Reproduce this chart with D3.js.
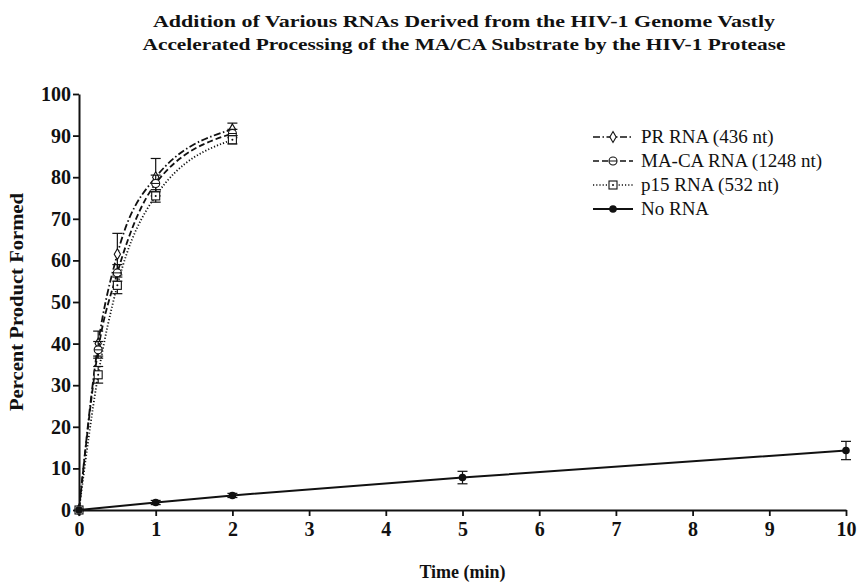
<!DOCTYPE html>
<html>
<head>
<meta charset="utf-8">
<script src="https://cdn.jsdelivr.net/npm/d3@7"></script>
<style>
  body { margin: 0; background: #fff; }
  text { font-family: "Liberation Serif", "DejaVu Serif", serif; fill: #111; }
  .tick text { font-size: 20px; font-weight: bold; }
  .title { font-size: 16px; font-weight: bold; }
  .axlabel { font-size: 18px; font-weight: bold; }
  .legend { font-size: 19px; }
</style>
</head>
<body>
<div class="canvas"></div>
<script>

// data
var rnaTimes = [0, 0.25, 0.5, 1, 2];
var prRna = [0, 40, 61.5, 80, 91.5];
var prErr = [0, 3, 5, 4.5, 1.5];
var macaRna = [0, 38.5, 57, 78.5, 90.5];
var macaErr = [0, 2, 2, 2, 1];
var p15Rna = [0, 32.5, 54, 75.5, 89];
var p15Err = [0, 2, 2, 1.5, 1];
var noRnaTimes = [0, 1, 2, 5, 10];
var noRna = [0, 1.8, 3.5, 7.8, 14.3];
var noRnaErr = [0, 0.5, 0.5, 1.5, 2.2];

var xTicks = [0, 1, 2, 3, 4, 5, 6, 7, 8, 9, 10];
var yTicks = [0, 10, 20, 30, 40, 50, 60, 70, 80, 90, 100];
var legendNames = ["PR RNA (436 nt)", "MA-CA RNA (1248 nt)", "p15 RNA (532 nt)", "No RNA"];

var svg = d3.select(".canvas")
			.append("svg")
			.attr("width", 859)
			.attr("height", 583);

var x = d3.scaleLinear().domain([0, 10]).range([79, 846]);
var y = d3.scaleLinear().domain([0, 100]).range([510, 94]);

// TITLE

svg.append("text")
   .attr("class", "title")
   .attr("x", 464)
   .attr("y", 27)
   .attr("text-anchor", "middle")
   .attr("textLength", 622)
   .attr("lengthAdjust", "spacingAndGlyphs")
   .text("Addition of Various RNAs Derived from the HIV-1 Genome Vastly");

svg.append("text")
   .attr("class", "title")
   .attr("x", 464)
   .attr("y", 50)
   .attr("text-anchor", "middle")
   .attr("textLength", 643)
   .attr("lengthAdjust", "spacingAndGlyphs")
   .text("Accelerated Processing of the MA/CA Substrate by the HIV-1 Protease");

// AXES

svg.append("g")
   .attr("transform", "translate(0," + y(0) + ")")
   .call(d3.axisBottom(x).tickValues(xTicks).tickSize(6).tickSizeOuter(0).tickPadding(6));

svg.append("g")
   .attr("transform", "translate(" + x(0) + ",0)")
   .call(d3.axisLeft(y).tickValues(yTicks).tickSize(6).tickSizeOuter(0).tickPadding(2));

svg.selectAll(".domain").attr("stroke", "#111").attr("stroke-width", 2);
svg.selectAll(".tick line").attr("stroke", "#111").attr("stroke-width", 1.8);

svg.append("text")
   .attr("class", "axlabel")
   .attr("x", x(5))
   .attr("y", 578)
   .attr("text-anchor", "middle")
   .text("Time (min)");

svg.append("text")
   .attr("class", "axlabel")
   .attr("transform", "translate(23," + y(50) + ") rotate(-90)")
   .attr("text-anchor", "middle")
   .attr("textLength", 218)
   .attr("lengthAdjust", "spacingAndGlyphs")
   .text("Percent Product Formed");

// SERIES

var series = [
	{name: legendNames[0], t: rnaTimes, v: prRna, e: prErr, dash: "7,2.5,1.5,2.5", marker: "diamond", curve: d3.curveMonotoneX},
	{name: legendNames[1], t: rnaTimes, v: macaRna, e: macaErr, dash: "6,3", marker: "circle", curve: d3.curveMonotoneX},
	{name: legendNames[2], t: rnaTimes, v: p15Rna, e: p15Err, dash: "1.2,2", marker: "square", curve: d3.curveMonotoneX},
	{name: legendNames[3], t: noRnaTimes, v: noRna, e: noRnaErr, dash: null, marker: "filled", curve: d3.curveLinear}
];

function drawMarker(g, type, cx, cy) {
	if (type == "diamond") {
		g.append("path")
		 .attr("d", d3.symbol().type(d3.symbolDiamond).size(34)())
		 .attr("transform", "translate(" + cx + "," + cy + ")")
		 .attr("fill", "#fff").attr("stroke", "#111").attr("stroke-width", 1.1);
	} else if (type == "circle") {
		g.append("circle").attr("cx", cx).attr("cy", cy).attr("r", 4)
		 .attr("fill", "#fff").attr("stroke", "#111").attr("stroke-width", 1.1);
		g.append("line").attr("x1", cx - 4).attr("x2", cx + 4).attr("y1", cy).attr("y2", cy)
		 .attr("stroke", "#111").attr("stroke-width", 1);
	} else if (type == "square") {
		g.append("rect").attr("x", cx - 4).attr("y", cy - 4).attr("width", 8).attr("height", 8)
		 .attr("fill", "#fff").attr("stroke", "#111").attr("stroke-width", 1.1);
		g.append("circle").attr("cx", cx).attr("cy", cy).attr("r", 1).attr("fill", "#111");
	} else {
		g.append("circle").attr("cx", cx).attr("cy", cy).attr("r", 3.8).attr("fill", "#111");
	}
}

series.forEach(function(s){

	var pts = s.t.map(function(t, i){ return {t: t, v: s.v[i], e: s.e[i]}; });

	var line = d3.line()
				 .x(function(d){ return x(d.t); })
				 .y(function(d){ return y(d.v); })
				 .curve(s.curve);

	svg.append("path")
	   .datum(pts)
	   .attr("d", line)
	   .attr("fill", "none")
	   .attr("stroke", "#111")
	   .attr("stroke-width", s.dash ? 1.8 : 2)
	   .attr("stroke-dasharray", s.dash);

	var g = svg.append("g");

	pts.forEach(function(d){
		if (d.e > 0) {
			g.append("line")
			 .attr("x1", x(d.t)).attr("x2", x(d.t))
			 .attr("y1", y(d.v - d.e)).attr("y2", y(d.v + d.e))
			 .attr("stroke", "#111").attr("stroke-width", 1.2);
			[d.v - d.e, d.v + d.e].forEach(function(yv){
				g.append("line")
				 .attr("x1", x(d.t) - 5).attr("x2", x(d.t) + 5)
				 .attr("y1", y(yv)).attr("y2", y(yv))
				 .attr("stroke", "#111").attr("stroke-width", 1.2);
			});
		}
		drawMarker(g, s.marker, x(d.t), y(d.v));
	});
});

// LEGEND

series.forEach(function(s, i){
	var ly = 137 + i * 24;
	svg.append("line")
	   .attr("x1", 593).attr("x2", 633)
	   .attr("y1", ly).attr("y2", ly)
	   .attr("stroke", "#111")
	   .attr("stroke-width", s.dash ? 1.6 : 2)
	   .attr("stroke-dasharray", s.dash);
	drawMarker(svg.append("g"), s.marker, 613, ly);
	svg.append("text")
	   .attr("class", "legend")
	   .attr("x", 641)
	   .attr("y", ly + 6)
	   .text(s.name);
});

</script>
</body>
</html>
